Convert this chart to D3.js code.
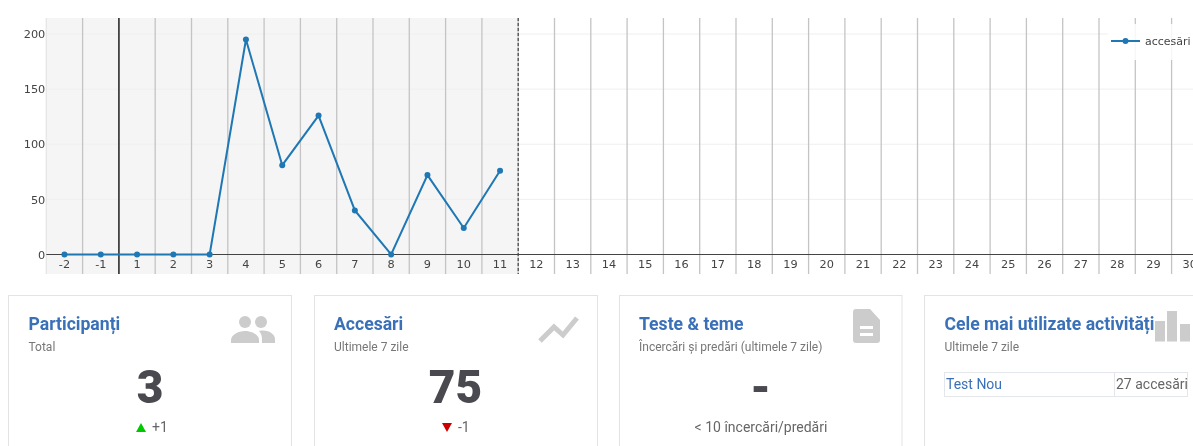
<!DOCTYPE html>
<html><head><meta charset="utf-8">
<script src="https://cdn.jsdelivr.net/npm/d3@7/dist/d3.min.js"></script>
<style>html,body{margin:0;padding:0;background:#fff;overflow:hidden}svg{display:block;filter:blur(0.35px)}</style>
</head><body><div id="c"></div>
<script>
const categories = ["-2","-1","1","2","3","4","5","6","7","8","9","10","11","12","13","14","15","16","17","18","19","20","21","22","23","24","25","26","27","28","29","30"];
const accesari = [0,0,0,0,0,195,81,126,40,0,72,24,76];
const yTicks = [0,50,100,150,200];
const seriesName = "accesări";
const cardTitles = ["Participanți","Accesări","Teste & teme","Cele mai utilizate activități"];
const cardSubs = ["Total","Ultimele 7 zile","Încercări și predări (ultimele 7 zile)","Ultimele 7 zile"];
const cardValues = ["3","75","-"];
const cardNotes = ["+1","-1","< 10 încercări/predări"];

const W=1193,H=446;
const svg=d3.select("#c").append("svg").attr("width",W).attr("height",H);
const left=46.3,top_=18,bottom=274;
const step=36.3;
const x=d3.scaleBand().domain(categories).range([left,left+step*categories.length]);
const y=d3.scaleLinear().domain([0,200]).range([254.5,34]);

const g=svg.append("g");
g.append("rect").attr("x",left).attr("y",top_).attr("width",x("12")-left).attr("height",bottom-top_).attr("fill","#f5f5f5");
g.selectAll(".h").data(yTicks.filter(d=>d>0)).join("line")
 .attr("x1",left).attr("x2",W).attr("y1",d=>y(d)).attr("y2",d=>y(d)).attr("stroke","#efefef").attr("stroke-width",1);
g.selectAll(".v").data(categories).join("line")
 .attr("x1",d=>x(d)).attr("x2",d=>x(d)).attr("y1",top_).attr("y2",bottom)
 .attr("stroke",(d,i)=>i===0?"#e6e6e6":"#c4c4c4").attr("stroke-width",1.3);
const ya=d3.axisLeft(y).tickValues(yTicks).tickSize(0).tickPadding(1);
const yg=svg.append("g").attr("transform",`translate(${left},0)`).call(ya);
yg.select(".domain").remove();
yg.selectAll("text").attr("font-family","DejaVu Sans").attr("font-size",11.3).attr("fill","#444");
const xa=d3.axisBottom(x).tickSize(0).tickPadding(0);
const xg=svg.append("g").attr("transform","translate(0,260)").call(xa);
xg.select(".domain").remove();
xg.selectAll("text").attr("font-family","DejaVu Sans").attr("font-size",11.3).attr("fill","#444");
svg.append("line").attr("x1",left).attr("x2",W).attr("y1",y(0)).attr("y2",y(0)).attr("stroke","#444").attr("stroke-width",1);
svg.append("line").attr("x1",x("1")).attr("x2",x("1")).attr("y1",top_).attr("y2",bottom).attr("stroke","#333").attr("stroke-width",1.6);
svg.append("line").attr("x1",x("12")).attr("x2",x("12")).attr("y1",top_).attr("y2",bottom).attr("stroke","#444").attr("stroke-width",1.2).attr("stroke-dasharray","3,2");
const cats=categories.slice(0,accesari.length);
const line=d3.line().x((d,i)=>x(cats[i])+x.bandwidth()/2).y(d=>y(d));
const blue="#1f77b4";
svg.append("path").datum(accesari).attr("d",line).attr("fill","none").attr("stroke",blue).attr("stroke-width",2);
svg.selectAll(".dot").data(accesari).join("circle").attr("cx",(d,i)=>x(cats[i])+x.bandwidth()/2).attr("cy",d=>y(d)).attr("r",3).attr("fill",blue);
svg.append("rect").attr("x",1108).attr("y",24).attr("width",85).attr("height",36).attr("fill","#fff").attr("fill-opacity",0.85);
svg.append("line").attr("x1",1111).attr("x2",1140).attr("y1",41).attr("y2",41).attr("stroke",blue).attr("stroke-width",2);
svg.append("circle").attr("cx",1125.5).attr("cy",41).attr("r",3).attr("fill",blue);
svg.append("text").attr("x",1145).attr("y",45).attr("font-family","DejaVu Sans").attr("font-size",11).attr("fill","#444").text(seriesName);

const cardX=[8.5,314.5,619.5,924.5], cardW=[283,283,282.5,300];
const titleC="#3a70b8", subC="#777", bigC="#49494f", noteC="#666";
const F="Roboto";
cardX.forEach((cx,i)=>{
  svg.append("rect").attr("x",cx).attr("y",295.5).attr("width",cardW[i]).attr("height",200).attr("fill","#fff").attr("stroke","#e3e3e3");
});
const ic="#cccccc";
const ico=svg.append("g").attr("fill",ic);
ico.append("circle").attr("cx",245).attr("cy",322).attr("r",6);
ico.append("circle").attr("cx",261).attr("cy",322).attr("r",6);
ico.append("path").attr("d","M231 343 v-3 c0-5 7-9 14-9 s14 4 14 9 v3 z");
ico.append("path").attr("d","M259 331 c9-2 16 3 16 8 v4 h-13 v-4 c0-3-1-6-3-8 z");
svg.append("path").attr("d","M540 341 L554 327 L563 335 L577 318").attr("fill","none").attr("stroke",ic).attr("stroke-width",5);
ico.append("path").attr("fill-rule","evenodd").attr("d","M856 309 h14 l10 11 v20 a3 3 0 0 1 -3 3 h-21 a3 3 0 0 1 -3 -3 v-28 a3 3 0 0 1 3 -3 z M860 326 v3 h13 v-3 z M860 333 v3 h13 v-3 z");
[[1155,321],[1167,311],[1180,324]].forEach(b=>ico.append("rect").attr("x",b[0]).attr("y",b[1]).attr("width",10).attr("height",341.5-b[1]));

const textX=[28.5,334,639,944.5];
cardTitles.forEach((t,i)=>{
  svg.append("text").attr("x",textX[i]).attr("y",330).attr("font-family",F).attr("font-weight",700).attr("font-size",17.6).attr("fill",titleC).text(t);
  svg.append("text").attr("x",textX[i]).attr("y",351).attr("font-family",F).attr("font-size",12).attr("fill",subC).text(cardSubs[i]);
});
const centers=[150,455.5,760.5];
cardValues.forEach((v,i)=>{
  svg.append("text").attr("x",centers[i]).attr("y",403).attr("text-anchor","middle").attr("font-family",F).attr("font-weight",900).attr("font-size",46).attr("fill",bigC).text(v);
});
svg.append("path").attr("d","M136 432 L141 423 L146 432 Z").attr("fill","#00c800");
svg.append("path").attr("d","M442 423 L452 423 L447 432 Z").attr("fill","#cc0000");
svg.append("text").attr("x",152).attr("y",432).attr("font-family",F).attr("font-size",14).attr("fill",noteC).text(cardNotes[0]);
svg.append("text").attr("x",458).attr("y",432).attr("font-family",F).attr("font-size",14).attr("fill",noteC).text(cardNotes[1]);
svg.append("text").attr("x",761).attr("y",432).attr("text-anchor","middle").attr("font-family",F).attr("font-size",14).attr("fill",noteC).text(cardNotes[2]);
svg.append("rect").attr("x",944.5).attr("y",372.5).attr("width",243).attr("height",24).attr("fill","none").attr("stroke","#e3e6ea");
svg.append("line").attr("x1",1114.5).attr("x2",1114.5).attr("y1",372.5).attr("y2",396.5).attr("stroke","#e3e6ea");
svg.append("text").attr("x",946).attr("y",389).attr("font-family",F).attr("font-size",14).attr("fill","#3a70b8").text("Test Nou");
svg.append("text").attr("x",1116).attr("y",389).attr("font-family",F).attr("font-size",14).attr("fill",noteC).text("27 accesări");
</script></body></html>
